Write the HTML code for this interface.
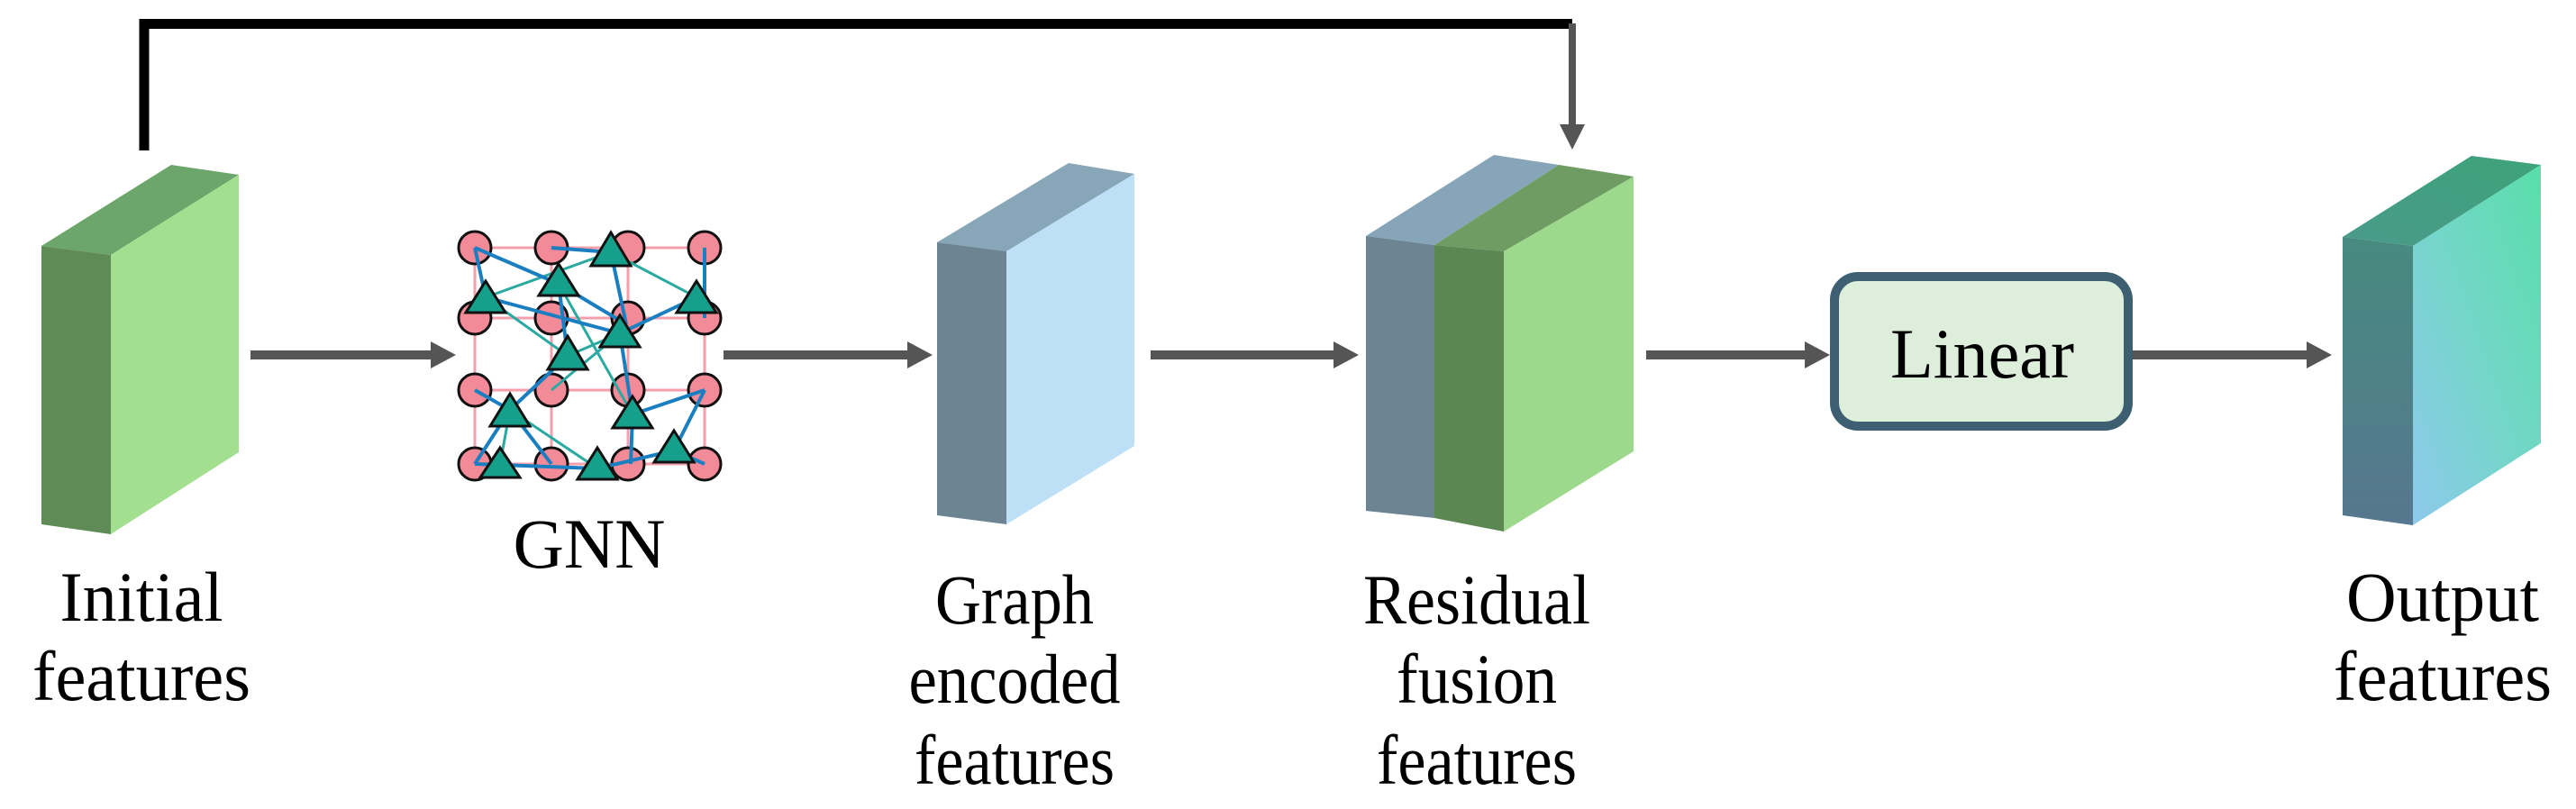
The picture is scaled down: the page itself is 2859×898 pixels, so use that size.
<!DOCTYPE html>
<html><head><meta charset="utf-8"><style>
html,body{margin:0;padding:0;background:#fff;}
svg{display:block;}
text{font-family:"Liberation Serif",serif;font-size:78px;fill:#000;}
</style></head><body>
<svg width="2859" height="898" viewBox="0 0 2859 898" xmlns="http://www.w3.org/2000/svg">
<defs>
<linearGradient id="ofront" x1="0" y1="0" x2="0" y2="1"><stop offset="0" stop-color="#478a7f"/><stop offset="1" stop-color="#56778f"/></linearGradient>
<linearGradient id="oright" x1="1" y1="0" x2="0" y2="1"><stop offset="0" stop-color="#58deaa"/><stop offset="0.5" stop-color="#74d6c8"/><stop offset="1" stop-color="#8dc9ec"/></linearGradient>
<linearGradient id="otop" x1="0" y1="1" x2="1" y2="0"><stop offset="0" stop-color="#4a9a8a"/><stop offset="1" stop-color="#3da37a"/></linearGradient>
</defs>

<!-- skip connection -->
<path d="M160,167 V26.5 H1745" fill="none" stroke="#000" stroke-width="11"/>
<line x1="1745" y1="26" x2="1745" y2="140" stroke="#555" stroke-width="8"/>
<polygon points="1731,138 1759,138 1745,166" fill="#555"/>

<!-- Initial block -->
<polygon points="46,273 190,183 265,194 123,283" fill="#6da66a"/>
<polygon points="46,273 123,283 123,593 46,582" fill="#5f8b56"/>
<polygon points="123,283 265,194 265,502 123,593" fill="#a2e08f"/>

<!-- arrows -->
<g fill="#555">
<rect x="278" y="389" width="202" height="10"/><polygon points="478,379 506,394 478,409"/>
<rect x="803" y="389" width="206" height="10"/><polygon points="1007,379 1035,394 1007,409"/>
<rect x="1277" y="389" width="205" height="10"/><polygon points="1480,379 1508,394 1480,409"/>
<rect x="1827" y="389" width="178" height="10"/><polygon points="2003,379 2031,394 2003,409"/>
<rect x="2367" y="389" width="195" height="10"/><polygon points="2560,379 2588,394 2560,409"/>
</g>

<!-- GNN -->
<g>
<g stroke="#f4a0ac" stroke-width="3" fill="none">
<rect x="527" y="275" width="255" height="240"/>
<line x1="612" y1="275" x2="612" y2="515"/><line x1="697" y1="275" x2="697" y2="515"/>
<line x1="527" y1="353" x2="782" y2="353"/><line x1="527" y1="433" x2="782" y2="433"/>
</g>
<g fill="#f28a98" stroke="#111" stroke-width="3">
<circle cx="527" cy="275" r="18"/><circle cx="612" cy="275" r="18"/><circle cx="697" cy="275" r="18"/><circle cx="782" cy="275" r="18"/>
<circle cx="527" cy="353" r="18"/><circle cx="612" cy="353" r="18"/><circle cx="697" cy="353" r="18"/><circle cx="782" cy="353" r="18"/>
<circle cx="527" cy="433" r="18"/><circle cx="612" cy="433" r="18"/><circle cx="697" cy="433" r="18"/><circle cx="782" cy="433" r="18"/>
<circle cx="527" cy="515" r="18"/><circle cx="612" cy="515" r="18"/><circle cx="697" cy="515" r="18"/><circle cx="782" cy="515" r="18"/>
</g>
<g stroke="#2aa9a0" stroke-width="3">
<line x1="539" y1="330" x2="678" y2="280"/><line x1="620" y1="315" x2="702" y2="460"/>
<line x1="678" y1="280" x2="773" y2="330"/><line x1="630" y1="395" x2="688" y2="370"/>
<line x1="566" y1="455" x2="663" y2="520"/><line x1="539" y1="330" x2="630" y2="395"/>
<line x1="555" y1="515" x2="566" y2="455"/><line x1="612" y1="433" x2="688" y2="370"/>
</g>
<g stroke="#1a7fc0" stroke-width="4">
<line x1="527" y1="275" x2="620" y2="315"/><line x1="612" y1="275" x2="678" y2="280"/>
<line x1="527" y1="275" x2="539" y2="330"/><line x1="620" y1="315" x2="630" y2="395"/>
<line x1="539" y1="330" x2="688" y2="370"/><line x1="773" y1="330" x2="688" y2="370"/>
<line x1="678" y1="280" x2="695" y2="360"/><line x1="782" y1="275" x2="782" y2="353"/>
<line x1="688" y1="370" x2="702" y2="460"/><line x1="630" y1="395" x2="566" y2="455"/>
<line x1="702" y1="460" x2="782" y2="433"/><line x1="782" y1="433" x2="748" y2="500"/>
<line x1="527" y1="433" x2="566" y2="455"/><line x1="527" y1="515" x2="663" y2="520"/>
<line x1="663" y1="520" x2="748" y2="500"/><line x1="566" y1="455" x2="527" y2="515"/>
<line x1="702" y1="460" x2="700" y2="515"/><line x1="748" y1="500" x2="782" y2="515"/>
<line x1="620" y1="315" x2="695" y2="360"/><line x1="566" y1="455" x2="612" y2="515"/>
</g>
<g fill="#14a08a" stroke="#111" stroke-width="3">
<polygon points="678,258 700,295 656,295"/><polygon points="620,293 642,328 598,328"/>
<polygon points="539,312 561,347 517,347"/><polygon points="773,312 795,347 751,347"/>
<polygon points="688,350 710,385 666,385"/><polygon points="630,373 652,410 608,410"/>
<polygon points="566,437 588,473 544,473"/><polygon points="702,440 724,475 680,475"/>
<polygon points="748,478 770,513 726,513"/><polygon points="555,497 577,530 533,530"/>
<polygon points="663,497 685,532 641,532"/>
</g>
</g>

<!-- Graph encoded block -->
<polygon points="1040,269 1186,181 1259,193 1117,279" fill="#87a6b8"/>
<polygon points="1040,269 1117,279 1117,582 1040,572" fill="#6d8493"/>
<polygon points="1117,279 1259,193 1259,495 1117,582" fill="#bde0f7"/>

<!-- Residual block -->
<polygon points="1516,262 1658,172 1730,183 1592,272" fill="#87a5b8"/>
<polygon points="1592,272 1730,183 1813,196 1669,279" fill="#6f9c62"/>
<polygon points="1516,262 1592,272 1592,575 1516,567" fill="#6d8493"/>
<polygon points="1592,272 1669,279 1669,590 1592,575" fill="#5b8852"/>
<polygon points="1669,279 1813,196 1813,501 1669,590" fill="#9dd98c"/>

<!-- Linear box -->
<rect x="2036" y="307" width="326" height="166" rx="26" fill="#ddefda" stroke="#3e5e72" stroke-width="10"/>
<text x="2200" y="419" text-anchor="middle" textLength="204" lengthAdjust="spacingAndGlyphs">Linear</text>

<!-- Output block -->
<polygon points="2600,263 2743,173 2820,183 2678,273" fill="url(#otop)"/>
<polygon points="2600,263 2678,273 2678,583 2600,572" fill="url(#ofront)"/>
<polygon points="2678,273 2820,183 2820,492 2678,583" fill="url(#oright)"/>

<!-- labels -->
<text x="654" y="630" text-anchor="middle">GNN</text>
<text x="157" y="689" text-anchor="middle" textLength="181" lengthAdjust="spacingAndGlyphs">Initial</text>
<text x="157" y="777" text-anchor="middle" textLength="242" lengthAdjust="spacingAndGlyphs">features</text>
<text x="1126" y="692" text-anchor="middle" textLength="176" lengthAdjust="spacingAndGlyphs">Graph</text>
<text x="1126" y="780" text-anchor="middle" textLength="235" lengthAdjust="spacingAndGlyphs">encoded</text>
<text x="1126" y="870" text-anchor="middle" textLength="222" lengthAdjust="spacingAndGlyphs">features</text>
<text x="1639" y="692" text-anchor="middle" textLength="252" lengthAdjust="spacingAndGlyphs">Residual</text>
<text x="1639" y="780" text-anchor="middle" textLength="178" lengthAdjust="spacingAndGlyphs">fusion</text>
<text x="1639" y="870" text-anchor="middle" textLength="222" lengthAdjust="spacingAndGlyphs">features</text>
<text x="2711" y="689" text-anchor="middle" textLength="214" lengthAdjust="spacingAndGlyphs">Output</text>
<text x="2711" y="777" text-anchor="middle" textLength="242" lengthAdjust="spacingAndGlyphs">features</text>
</svg>
</body></html>
